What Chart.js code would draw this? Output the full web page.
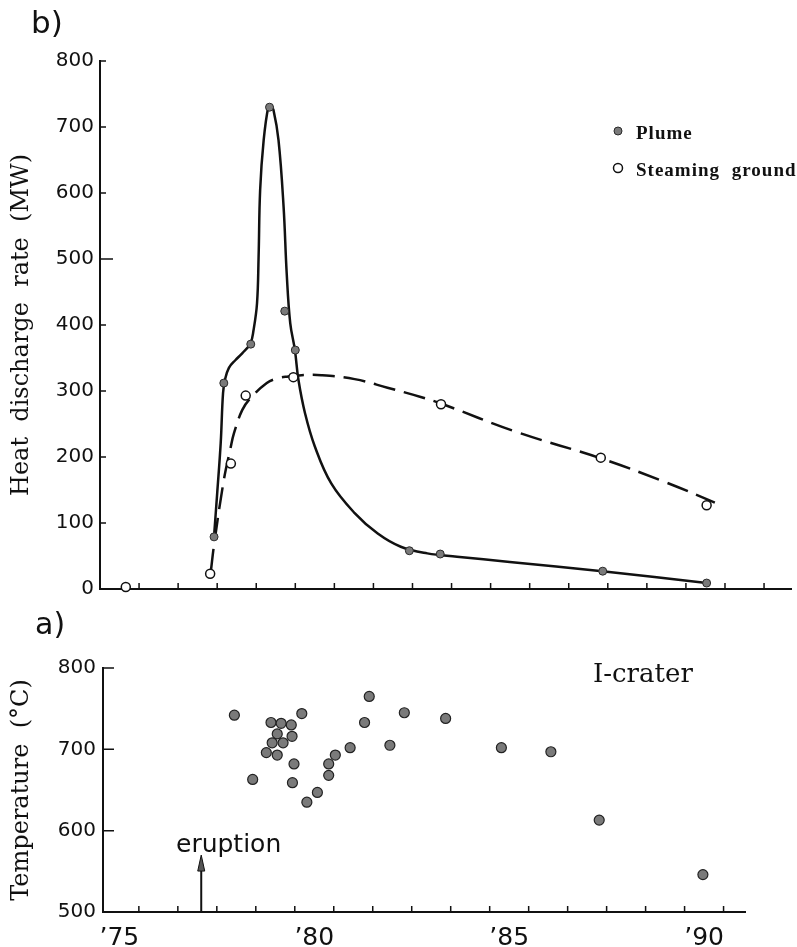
<!DOCTYPE html>
<html>
<head>
<meta charset="utf-8">
<title>I-crater heat discharge and temperature</title>
<script src="https://cdn.jsdelivr.net/npm/chart.js@4.4.1/dist/chart.umd.min.js"></script>
<style>
  html, body { margin: 0; padding: 0; background: #fff; }
  #wrap { position: relative; width: 797px; height: 947px; }
  #heat-chart { position: absolute; left: 0; top: 0; }
  #temp-chart { position: absolute; left: 0; top: 600px; }
</style>
</head>
<body>
<div id="wrap">
  <canvas id="heat-chart" width="797" height="600"></canvas>
  <canvas id="temp-chart" width="797" height="347"></canvas>
</div>
<script>
// b) heat discharge rate (MW), measured points
const plumeYears = [1977.92, 1978.17, 1978.86, 1979.34, 1979.73, 1980.00, 1982.92, 1983.71, 1987.87, 1990.53];
const plumeMW    = [79, 312, 371, 730, 421, 362, 58, 53, 27, 9];
const steamYears = [1975.66, 1977.82, 1978.35, 1978.73, 1979.95, 1983.73, 1987.82, 1990.53];
const steamMW    = [3, 23, 190, 293, 321, 280, 199, 127];

// hand-drawn fit curves
const plumeCurveYears = [1977.92, 1978.00, 1978.09, 1978.15, 1978.20, 1978.30, 1978.47, 1978.64, 1978.85, 1978.93,
                         1979.02, 1979.06, 1979.10, 1979.19, 1979.31, 1979.37, 1979.44, 1979.57, 1979.70, 1979.78,
                         1979.87, 1979.99, 1980.08, 1980.25, 1980.50, 1980.92, 1981.52, 1982.11, 1982.70, 1983.38,
                         1984.14, 1985.49, 1987.86, 1990.53];
const plumeCurveMW    = [80, 145, 221, 297, 317, 335, 347, 357, 372, 392,
                         433, 503, 605, 680, 731, 733, 726, 680, 579, 478,
                         403, 362, 317, 266, 216, 160, 115, 84, 64, 54,
                         49, 41, 27, 9];
const steamCurveYears = [1977.84, 1977.92, 1978.17, 1978.34, 1978.43, 1978.64, 1978.85, 1979.27, 1979.53, 1979.82,
                         1980.16, 1980.67, 1981.52, 1982.36, 1983.21, 1983.73, 1985.66, 1987.82, 1989.47, 1990.74];
const steamCurveMW    = [28, 67, 165, 213, 236, 271, 289, 312, 319, 322,
                         324, 324, 318, 305, 291, 281, 238, 198, 162, 131];

// a) I-crater temperature (°C)
const tempYears = [1978.45, 1978.92, 1979.27, 1979.39, 1979.42, 1979.55, 1979.55, 1979.65, 1979.70, 1979.91,
                   1979.93, 1979.98, 1979.94, 1980.18, 1980.31, 1980.58, 1980.87, 1980.87, 1981.04, 1981.42,
                   1981.79, 1981.91, 1982.44, 1982.81, 1983.87, 1985.30, 1986.57, 1987.81, 1990.47];
const tempC     = [742, 663, 696, 733, 708, 719, 693, 732, 708, 730,
                   716, 682, 659, 744, 635, 647, 668, 682, 693, 702,
                   733, 765, 705, 745, 738, 702, 697, 613, 546];

// axes
const heatTicks = [0, 100, 200, 300, 400, 500, 600, 700, 800];
const tempTicks = [500, 600, 700, 800];
const yearMarksTop = [1976, 1977, 1978, 1979, 1980, 1981, 1982, 1983, 1984, 1985, 1986, 1987, 1988, 1989, 1990, 1991, 1992];
const yearMarksBottom = [1976, 1977, 1978, 1979, 1980, 1981, 1982, 1983, 1984, 1985, 1986, 1987, 1988, 1989, 1990, 1991];
const labelYears = [1975, 1980, 1985, 1990];
const yearLabels = ['\u201975', '\u201980', '\u201985', '\u201990'];
const eruptionYear = 1977.6;

const INK = '#111';

function toXY(xs, ys) {
    return xs.map(function(x, i) { return { x: x, y: ys[i] }; });
}

// fixed axis box, no extra room for overhanging labels
function fixBox(w, h) {
    return function(s) {
        if (w !== null) s.width = w;
        if (h !== null) s.height = h;
        s.paddingTop = 0;
        s.paddingBottom = 0;
        s.paddingLeft = 0;
        s.paddingRight = 0;
    };
}

// small tick marks drawn inside the plot, as in the original figure
const innerTicks = {
    id: 'innerTicks',
    afterDraw(chart, args, opts) {
        const ctx = chart.ctx;
        const area = chart.chartArea;
        const x = chart.scales.x;
        const y = chart.scales.y;
        ctx.save();
        ctx.strokeStyle = INK;
        ctx.lineWidth = 1.5;
        ctx.beginPath();
        opts.xMarks.forEach(function(v) {
            const px = x.getPixelForValue(v);
            ctx.moveTo(px, area.bottom);
            ctx.lineTo(px, area.bottom - 6);
        });
        y.ticks.forEach(function(t) {
            const py = y.getPixelForValue(t.value);
            const len = t.value === opts.longMark ? 13 : opts.yLen;
            ctx.moveTo(area.left, py);
            ctx.lineTo(area.left + len, py);
        });
        ctx.stroke();
        ctx.restore();
    }
};

// legend built from the marker datasets
const markerLegend = {
    id: 'markerLegend',
    afterDraw(chart, args, opts) {
        if (!opts.show) return;
        const ctx = chart.ctx;
        ctx.save();
        ctx.font = 'bold 19px "Liberation Serif"';
        ctx.letterSpacing = '1px';
        ctx.wordSpacing = '6px';
        chart.data.datasets.filter(function(d) { return d.showLine === false; }).forEach(function(d, i) {
            const cy = opts.y + i * opts.rowGap;
            ctx.beginPath();
            ctx.arc(opts.x, cy, d.pointRadius, 0, Math.PI * 2);
            ctx.fillStyle = d.pointBackgroundColor;
            ctx.fill();
            ctx.lineWidth = d.pointBorderWidth;
            ctx.strokeStyle = d.pointBorderColor;
            ctx.stroke();
            ctx.fillStyle = INK;
            ctx.fillText(d.label, opts.x + 18, cy + 8);
        });
        ctx.restore();
    }
};

// panel letters and text notes
const notes = {
    id: 'notes',
    afterDraw(chart, args, opts) {
        const ctx = chart.ctx;
        ctx.save();
        ctx.fillStyle = INK;
        (opts.texts || []).forEach(function(t) {
            ctx.font = t.font;
            ctx.fillText(t.text, t.x, t.y);
        });
        if (opts.arrow) {
            const px = chart.scales.x.getPixelForValue(opts.arrow.year);
            const yBase = chart.scales.y.getPixelForValue(opts.arrow.from);
            const yTip = chart.scales.y.getPixelForValue(opts.arrow.to);
            ctx.strokeStyle = INK;
            ctx.lineWidth = 2;
            ctx.beginPath();
            ctx.moveTo(px, yBase);
            ctx.lineTo(px, yTip + 14);
            ctx.stroke();
            ctx.beginPath();
            ctx.moveTo(px, yTip);
            ctx.lineTo(px - 3.5, yTip + 16);
            ctx.lineTo(px + 3.5, yTip + 16);
            ctx.closePath();
            ctx.fillStyle = '#555';
            ctx.fill();
            ctx.lineWidth = 1;
            ctx.stroke();
        }
        ctx.restore();
    }
};

function tickFont(size) {
    return { family: '"DejaVu Sans"', size: size };
}

// b) heat discharge chart
new Chart(document.getElementById('heat-chart'), {
    type: 'line',
    data: {
        datasets: [
            {
                label: 'Plume',
                data: toXY(plumeYears, plumeMW),
                showLine: false,
                pointRadius: 4,
                pointBackgroundColor: '#7a7a7a',
                pointBorderColor: '#2a2a2a',
                pointBorderWidth: 1,
                order: 0
            },
            {
                label: 'Steaming ground',
                data: toXY(steamYears, steamMW),
                showLine: false,
                pointRadius: 4.5,
                pointBackgroundColor: '#fff',
                pointBorderColor: INK,
                pointBorderWidth: 1.5,
                order: 1
            },
            {
                label: 'plume fit',
                data: toXY(plumeCurveYears, plumeCurveMW),
                borderColor: INK,
                borderWidth: 2.5,
                pointRadius: 0,
                tension: 0.4,
                order: 2
            },
            {
                label: 'steaming fit',
                data: toXY(steamCurveYears, steamCurveMW),
                borderColor: INK,
                borderWidth: 2.5,
                borderDash: [22, 9],
                pointRadius: 0,
                tension: 0.4,
                order: 3
            }
        ]
    },
    options: {
        responsive: false,
        animation: false,
        devicePixelRatio: 1,
        clip: false,
        layout: { padding: { top: 61, right: 1, left: 0, bottom: 0 } },
        scales: {
            x: {
                type: 'linear',
                min: 1975,
                max: 1992.69,
                grid: { display: false, drawTicks: false },
                ticks: { display: false },
                border: { color: INK, width: 2 },
                afterFit: fixBox(null, 11)
            },
            y: {
                min: 0,
                max: 800,
                afterBuildTicks: function(s) { s.ticks = heatTicks.map(function(v) { return { value: v }; }); },
                grid: { display: false, drawTicks: false },
                ticks: { padding: 6, color: INK, font: tickFont(20) },
                border: { color: INK, width: 2 },
                title: {
                    display: true,
                    text: 'Heat  discharge  rate  (MW)',
                    color: INK,
                    font: { family: '"DejaVu Serif"', size: 24 },
                    padding: { top: 7, bottom: 0 }
                },
                afterFit: fixBox(100, null)
            }
        },
        plugins: {
            legend: { display: false },
            tooltip: { enabled: false },
            innerTicks: { xMarks: yearMarksTop, yLen: 6, longMark: 500 },
            markerLegend: { show: true, x: 618, y: 131, rowGap: 37 },
            notes: {
                texts: [{ text: 'b)', x: 31, y: 33, font: '31px "DejaVu Sans"' }]
            }
        }
    },
    plugins: [innerTicks, markerLegend, notes]
});

// a) temperature chart
new Chart(document.getElementById('temp-chart'), {
    type: 'line',
    data: {
        datasets: [
            {
                label: 'I-crater',
                data: toXY(tempYears, tempC),
                showLine: false,
                pointRadius: 5,
                pointBackgroundColor: '#7a7a7a',
                pointBorderColor: '#222',
                pointBorderWidth: 1.2
            }
        ]
    },
    options: {
        responsive: false,
        animation: false,
        devicePixelRatio: 1,
        clip: false,
        layout: { padding: { top: 68, right: 52, left: 0, bottom: 0 } },
        scales: {
            x: {
                type: 'linear',
                min: 1975.08,
                max: 1991.55,
                afterBuildTicks: function(s) { s.ticks = labelYears.map(function(v) { return { value: v + 0.5 }; }); },
                grid: { display: false, drawTicks: false },
                ticks: {
                    autoSkip: false,
                    maxRotation: 0,
                    padding: 11,
                    color: INK,
                    font: tickFont(25),
                    callback: function(value, index) { return yearLabels[index]; }
                },
                border: { color: INK, width: 2 },
                afterFit: fixBox(null, 35)
            },
            y: {
                min: 500,
                max: 800,
                afterBuildTicks: function(s) { s.ticks = tempTicks.map(function(v) { return { value: v }; }); },
                grid: { display: false, drawTicks: false },
                ticks: { padding: 7, color: INK, font: tickFont(20) },
                border: { color: INK, width: 2 },
                title: {
                    display: true,
                    text: 'Temperature  (\u00B0C)',
                    color: INK,
                    font: { family: '"DejaVu Serif"', size: 24 },
                    padding: { top: 7, bottom: 0 }
                },
                afterFit: fixBox(103, null)
            }
        },
        plugins: {
            legend: { display: false },
            tooltip: { enabled: false },
            innerTicks: { xMarks: yearMarksBottom, yLen: 11, longMark: null },
            markerLegend: { show: false },
            notes: {
                texts: [
                    { text: 'a)', x: 35, y: 34, font: '30px "DejaVu Sans"' },
                    { text: 'I-crater', x: 593, y: 82, font: '26px "DejaVu Serif"' },
                    { text: 'eruption', x: 176, y: 252, font: '25px "DejaVu Sans"' }
                ],
                arrow: { year: eruptionYear, from: 500, to: 570 }
            }
        }
    },
    plugins: [innerTicks, markerLegend, notes]
});
</script>
</body>
</html>
